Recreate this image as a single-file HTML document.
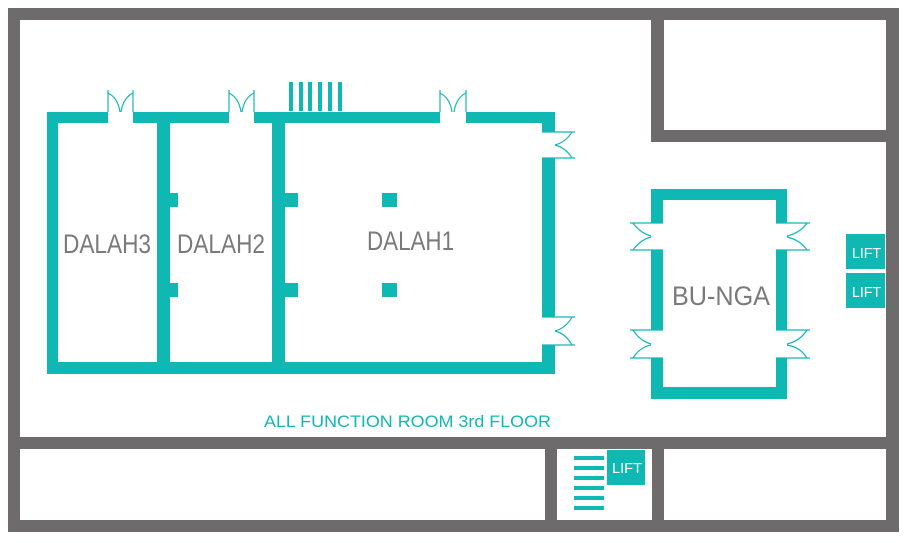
<!DOCTYPE html>
<html><head><style>html,body{margin:0;padding:0;background:#fff}svg{display:block}</style></head>
<body>
<svg width="908" height="543" viewBox="0 0 908 543" xmlns="http://www.w3.org/2000/svg">
<rect width="908" height="543" fill="#fff"/>
<g fill="#6d6b6c">
<rect x="8" y="8" width="891" height="12"/>
<rect x="8" y="520" width="891" height="12"/>
<rect x="8" y="8" width="12" height="524"/>
<rect x="886" y="8" width="13" height="524"/>
<rect x="8" y="437" width="891" height="12"/>
<rect x="545" y="437" width="12" height="90"/>
<rect x="652" y="437" width="12" height="90"/>
<rect x="651" y="8" width="13" height="134"/>
<rect x="651" y="130" width="240" height="12"/>
</g>
<g fill="#10b8b4">
<!-- big room -->
<rect x="47" y="112" width="61" height="11"/>
<rect x="133" y="112" width="96" height="11"/>
<rect x="254" y="112" width="186" height="11"/>
<rect x="466" y="112" width="89" height="11"/>
<rect x="47" y="112" width="11" height="262"/>
<rect x="157" y="112" width="13" height="262"/>
<rect x="272" y="112" width="13" height="262"/>
<rect x="542" y="112" width="13" height="20"/>
<rect x="542" y="158" width="13" height="159"/>
<rect x="542" y="345" width="13" height="29"/>
<rect x="47" y="362" width="508" height="12"/>
<rect x="170" y="193" width="8" height="14"/>
<rect x="170" y="283" width="8" height="14"/>
<rect x="285" y="193" width="13" height="14"/>
<rect x="285" y="283" width="13" height="14"/>
<rect x="382" y="193" width="15" height="14"/>
<rect x="382" y="283" width="15" height="14"/>
<!-- stairs top -->
<rect x="289" y="82" width="4" height="29"/>
<rect x="299" y="82" width="4" height="29"/>
<rect x="308" y="82" width="4" height="29"/>
<rect x="318" y="82" width="4" height="29"/>
<rect x="328" y="82" width="4" height="29"/>
<rect x="338" y="82" width="4" height="29"/>
<!-- bunga -->
<rect x="651" y="189" width="136" height="11"/>
<rect x="651" y="387" width="136" height="12"/>
<rect x="651" y="189" width="12" height="34"/>
<rect x="651" y="250" width="12" height="80"/>
<rect x="651" y="358" width="12" height="41"/>
<rect x="776" y="189" width="11" height="34"/>
<rect x="776" y="250" width="11" height="80"/>
<rect x="776" y="358" width="11" height="41"/>
<!-- lifts -->
<rect x="846" y="234" width="39" height="35"/>
<rect x="846" y="273" width="39" height="35"/>
<rect x="607" y="450" width="38" height="35"/>
<!-- stairs bottom -->
<rect x="574" y="456" width="30" height="4"/>
<rect x="574" y="466" width="30" height="4"/>
<rect x="574" y="476" width="30" height="4"/>
<rect x="574" y="486" width="30" height="4"/>
<rect x="574" y="496" width="30" height="4"/>
<rect x="574" y="506" width="30" height="4"/>
</g>
<!-- doors -->
<g fill="none" stroke="#10b8b4" stroke-width="1.2">
<path d="M108 112V90M133 112V90M108 93Q118 98 120 112M133 93Q123 98 121 112"/>
<path d="M229 112V90M254 112V90M229 93Q239 98 241 112M254 93Q244 98 242 112"/>
<path d="M440 112V90M466 112V90M440 93Q450 98 452 112M466 93Q456 98 454 112"/>
<path d="M542 132H575M542 158H575M572 132Q566 142 555 145M572 158Q566 148 555 145"/>
<path d="M542 317H575M542 345H575M572 317Q566 328 555 331M572 345Q566 334 555 331"/>
<path d="M630 223H663M630 250H663M633 223Q640 233 651 236M633 250Q640 240 651 237"/>
<path d="M630 330H663M630 358H663M633 330Q640 341 651 344M633 358Q640 347 651 345"/>
<path d="M776 223H810M776 250H810M807 223Q800 233 787 236M807 250Q800 240 787 237"/>
<path d="M776 330H810M776 358H810M807 330Q800 341 787 344M807 358Q800 347 787 345"/>
</g>
<g font-family="Liberation Sans, sans-serif" fill="#7a7a7a" font-size="27">
<text x="63" y="253" textLength="88" lengthAdjust="spacingAndGlyphs">DALAH3</text>
<text x="177" y="253" textLength="88" lengthAdjust="spacingAndGlyphs">DALAH2</text>
<text x="367" y="250" textLength="87" lengthAdjust="spacingAndGlyphs">DALAH1</text>
<text x="672" y="305" textLength="98" lengthAdjust="spacingAndGlyphs">BU-NGA</text>
</g>
<g font-family="Liberation Sans, sans-serif" fill="#fff" font-size="15">
<text x="852" y="258" textLength="29" lengthAdjust="spacingAndGlyphs">LIFT</text>
<text x="852" y="297" textLength="29" lengthAdjust="spacingAndGlyphs">LIFT</text>
<text x="612" y="473" textLength="30" lengthAdjust="spacingAndGlyphs">LIFT</text>
</g>
<text x="264" y="427" font-family="Liberation Sans, sans-serif" font-size="17" fill="#10b8b4" textLength="287" lengthAdjust="spacingAndGlyphs">ALL FUNCTION ROOM 3rd FLOOR</text>
</svg>
</body></html>
